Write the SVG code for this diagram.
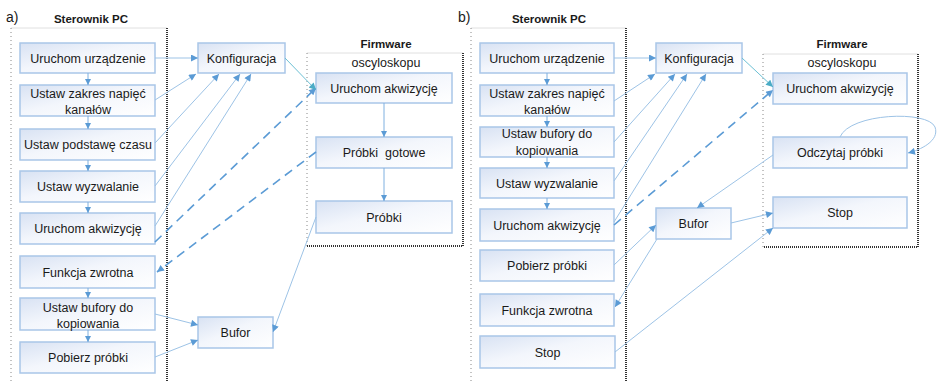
<svg xmlns="http://www.w3.org/2000/svg" width="937" height="382" viewBox="0 0 937 382">
<defs>
<linearGradient id="bg" x1="0" y1="0" x2="1" y2="1">
<stop offset="0" stop-color="#d8e2f3"/>
<stop offset="0.45" stop-color="#f3f6fc"/>
<stop offset="1" stop-color="#ffffff"/>
</linearGradient>
<marker id="ar" viewBox="0 0 10 10" refX="10" refY="5" markerWidth="9" markerHeight="7" markerUnits="userSpaceOnUse" orient="auto">
<path d="M0,0 L10,5 L0,10 z" fill="#5b9bd5"/>
</marker>
<marker id="art" viewBox="0 0 10 10" refX="10" refY="5" markerWidth="9" markerHeight="7" markerUnits="userSpaceOnUse" orient="auto">
<path d="M0,0 L10,5 L0,10 z" fill="#4bacc6"/>
</marker>
<marker id="ars" viewBox="0 0 10 10" refX="10" refY="5" markerWidth="7" markerHeight="6" markerUnits="userSpaceOnUse" orient="auto">
<path d="M0,0 L10,5 L0,10 z" fill="#5b9bd5"/>
</marker>
</defs>
<style>
text{font-family:"Liberation Sans",Arial,sans-serif;font-size:12.5px;fill:#1a1a1a;text-anchor:middle}
.lbl{text-anchor:start;font-size:14px}
.ttl{font-weight:bold;font-size:11.5px}
.box{fill:url(#bg);stroke:#a9c6e8;stroke-width:1.5}
.lt{stroke:#e0e0e0;stroke-width:1;fill:none}
.dl{stroke:#888;stroke-width:1;stroke-dasharray:1 3;fill:none}
.dk{stroke:#333;stroke-width:2;stroke-dasharray:1 1;fill:none}
.c{stroke:#9dc3e6;stroke-width:1;fill:none;marker-end:url(#ar)}
.d{stroke:#5b9bd5;stroke-width:1.6;stroke-dasharray:9 6;fill:none;marker-end:url(#ar)}
.t{stroke:#6cc0d4;stroke-width:1;fill:none;marker-end:url(#art)}
.v{stroke:#7fb0e0;stroke-width:1;fill:none;marker-end:url(#ars)}
</style>

<g id="containers">
<text class="lbl" x="6" y="22">a)</text>
<text class="ttl" x="91" y="23">Sterownik PC</text>
<line class="lt" x1="11" y1="28" x2="167" y2="28"/>
<line class="dl" x1="11" y1="28" x2="11" y2="382"/>
<line class="dk" x1="167" y1="28" x2="167" y2="382"/>

<text class="ttl" x="386" y="48">Firmware</text>
<line class="lt" x1="307" y1="53" x2="463" y2="53"/>
<line class="dl" x1="307" y1="53" x2="307" y2="246"/>
<polyline class="dk" points="463,53 463,246 307,246"/>
<text x="386" y="67">oscyloskopu</text>

<text class="lbl" x="458" y="22">b)</text>
<text class="ttl" x="549" y="23">Sterownik PC</text>
<line class="lt" x1="471" y1="28" x2="626" y2="28"/>
<line class="dl" x1="471" y1="28" x2="471" y2="382"/>
<line class="dk" x1="626" y1="28" x2="626" y2="382"/>

<text class="ttl" x="842" y="48">Firmware</text>
<line class="lt" x1="763" y1="54" x2="918" y2="54"/>
<line class="dl" x1="763" y1="54" x2="763" y2="247"/>
<polyline class="dk" points="918,54 918,247 763,247"/>
<text x="842" y="67">oscyloskopu</text>
</g>

<g id="a-pc1"><rect class="box" x="20" y="43" width="135" height="30"/><text x="88" y="62.5">Uruchom urządzenie</text></g>
<g id="a-pc2"><rect class="box" x="20" y="85" width="135" height="31"/><text x="88" y="97.5">Ustaw zakres napięć</text><text x="88" y="114">kanałów</text></g>
<g id="a-pc3"><rect class="box" x="20" y="129" width="135" height="31"/><text x="88" y="149">Ustaw podstawę czasu</text></g>
<g id="a-pc4"><rect class="box" x="20" y="171" width="135" height="31"/><text x="88" y="191">Ustaw wyzwalanie</text></g>
<g id="a-pc5"><rect class="box" x="20" y="213" width="135" height="31"/><text x="88" y="233">Uruchom akwizycję</text></g>
<g id="a-pc6"><rect class="box" x="20" y="256" width="135" height="32"/><text x="88" y="276.5">Funkcja zwrotna</text></g>
<g id="a-pc7"><rect class="box" x="20" y="298" width="135" height="32"/><text x="88" y="311.5">Ustaw bufory do</text><text x="88" y="327.5">kopiowania</text></g>
<g id="a-pc8"><rect class="box" x="20" y="342" width="135" height="31"/><text x="88" y="362">Pobierz próbki</text></g>
<g id="a-konf"><rect class="box" x="198" y="43" width="87" height="30"/><text x="241.5" y="62.5">Konfiguracja</text></g>
<g id="a-bufor"><rect class="box" x="198" y="317" width="75" height="31"/><text x="235.5" y="337">Bufor</text></g>
<g id="a-fw1"><rect class="box" x="316" y="73" width="136" height="30"/><text x="384" y="92.5">Uruchom akwizycję</text></g>
<g id="a-fw2"><rect class="box" x="316" y="137" width="136" height="31"/><text x="384" y="157">Próbki&#160; gotowe</text></g>
<g id="a-fw3"><rect class="box" x="316" y="201" width="136" height="32"/><text x="384" y="221.5">Próbki</text></g>

<g id="b-pc1"><rect class="box" x="480" y="43" width="134" height="30"/><text x="547" y="62.5">Uruchom urządzenie</text></g>
<g id="b-pc2"><rect class="box" x="480" y="85" width="134" height="31"/><text x="547" y="97.5">Ustaw zakres napięć</text><text x="547" y="114">kanałów</text></g>
<g id="b-pc3"><rect class="box" x="480" y="127" width="134" height="30"/><text x="547" y="138">Ustaw bufory do</text><text x="547" y="155">kopiowania</text></g>
<g id="b-pc4"><rect class="box" x="480" y="168" width="134" height="30"/><text x="547" y="187.5">Ustaw wyzwalanie</text></g>
<g id="b-pc5"><rect class="box" x="480" y="209" width="134" height="32"/><text x="547" y="229.5">Uruchom akwizycję</text></g>
<g id="b-pc6"><rect class="box" x="480" y="250" width="134" height="31"/><text x="547" y="270">Pobierz próbki</text></g>
<g id="b-pc7"><rect class="box" x="480" y="294" width="134" height="32"/><text x="547" y="314.5">Funkcja zwrotna</text></g>
<g id="b-pc8"><rect class="box" x="480" y="336" width="135" height="32"/><text x="547.5" y="356.5">Stop</text></g>
<g id="b-konf"><rect class="box" x="656" y="43" width="86" height="30"/><text x="699" y="62.5">Konfiguracja</text></g>
<g id="b-bufor"><rect class="box" x="656" y="208" width="75" height="31"/><text x="693.5" y="228">Bufor</text></g>
<g id="b-fw1"><rect class="box" x="773" y="73" width="134" height="31"/><text x="840" y="93">Uruchom akwizycję</text></g>
<g id="b-fw2"><rect class="box" x="773" y="137" width="134" height="31"/><text x="840" y="157">Odczytaj próbki</text></g>
<g id="b-fw3"><rect class="box" x="773" y="197" width="134" height="31"/><text x="840" y="217">Stop</text></g>

<g id="connectors">
<line class="v" x1="88" y1="73" x2="88" y2="85"/>
<line class="v" x1="88" y1="116" x2="88" y2="129"/>
<line class="v" x1="88" y1="160" x2="88" y2="171"/>
<line class="v" x1="88" y1="202" x2="88" y2="213"/>
<line class="v" x1="88" y1="288" x2="88" y2="298"/>
<line class="v" x1="88" y1="330" x2="88" y2="342"/>
<line class="v" x1="384" y1="103" x2="384" y2="137"/>
<line class="v" x1="384" y1="168" x2="384" y2="201"/>
<line class="c" x1="155" y1="58" x2="198" y2="58"/>
<line class="c" x1="155" y1="100" x2="196" y2="74"/>
<line class="c" x1="155" y1="143" x2="219" y2="74"/>
<line class="c" x1="155" y1="186" x2="240" y2="74"/>
<line class="c" x1="155" y1="226" x2="251" y2="74"/>
<line class="d" x1="155" y1="242" x2="316" y2="88"/>
<line class="d" x1="316" y1="152" x2="157" y2="272"/>
<line class="t" x1="285" y1="58" x2="316" y2="90"/>
<line class="c" x1="155" y1="314" x2="198" y2="325"/>
<line class="c" x1="155" y1="357" x2="198" y2="340"/>
<line class="c" x1="316" y1="217" x2="273" y2="332"/>

<line class="v" x1="547" y1="73" x2="547" y2="85"/>
<line class="v" x1="547" y1="116" x2="547" y2="127"/>
<line class="v" x1="547" y1="157" x2="547" y2="168"/>
<line class="v" x1="547" y1="198" x2="547" y2="209"/>
<line class="c" x1="614" y1="58" x2="656" y2="58"/>
<line class="c" x1="614" y1="101" x2="655" y2="74"/>
<line class="c" x1="614" y1="142" x2="675" y2="74"/>
<line class="c" x1="614" y1="181" x2="687" y2="74"/>
<line class="c" x1="614" y1="222" x2="706" y2="74"/>
<line class="d" x1="614" y1="225" x2="773" y2="90"/>
<line class="t" x1="742" y1="58" x2="773" y2="87"/>
<line class="c" x1="773" y1="155" x2="697" y2="208"/>
<line class="c" x1="614" y1="265" x2="656" y2="225"/>
<line class="c" x1="657" y1="239" x2="615" y2="307"/>
<line class="c" x1="731" y1="223" x2="773" y2="213"/>
<line class="c" x1="615" y1="352" x2="773" y2="228"/>
<path class="c" d="M840,137 C850,113 928,110 935,127 C940,141 920,150 908,153"/>
</g>
</svg>
